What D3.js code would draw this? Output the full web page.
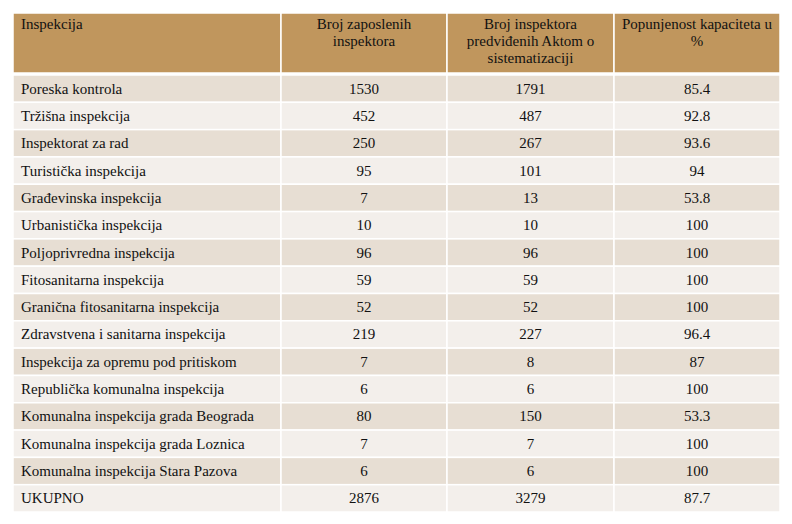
<!DOCTYPE html>
<html>
<head>
<meta charset="utf-8">
<script src="https://cdn.jsdelivr.net/npm/d3@7"></script>
</head>
<body style="margin:0; background:#fff">
<svg id="chart" width="792" height="524"></svg>
<script>
var headers = [
  ["Inspekcija"],
  ["Broj zaposlenih", "inspektora"],
  ["Broj inspektora", "predviđenih Aktom o", "sistematizaciji"],
  ["Popunjenost kapaciteta u", "%"]
];
var inspekcije = ["Poreska kontrola", "Tržišna inspekcija", "Inspektorat za rad", "Turistička inspekcija",
  "Građevinska inspekcija", "Urbanistička inspekcija", "Poljoprivredna inspekcija", "Fitosanitarna inspekcija",
  "Granična fitosanitarna inspekcija", "Zdravstvena i sanitarna inspekcija", "Inspekcija za opremu pod pritiskom",
  "Republička komunalna inspekcija", "Komunalna inspekcija grada Beograda", "Komunalna inspekcija grada Loznica",
  "Komunalna inspekcija Stara Pazova", "UKUPNO"];
var zaposleni = [1530, 452, 250, 95, 7, 10, 96, 59, 52, 219, 7, 6, 80, 7, 6, 2876];
var predvidjeni = [1791, 487, 267, 101, 13, 10, 96, 59, 52, 227, 8, 6, 150, 7, 6, 3279];
var popunjenost = ["85.4", "92.8", "93.6", "94", "53.8", "100", "100", "100", "100", "96.4", "87", "100", "53.3", "100", "100", "87.7"];

var font = "'Liberation Serif', 'DejaVu Serif', serif";
var svg = d3.select("#chart");
var colEdges = [13, 281, 447, 614, 780];
var headTop = 13, headBottom = 73, bodyTop = 75, bodyBottom = 512;

var y = d3.scaleBand().domain(d3.range(inspekcije.length)).range([bodyTop, bodyBottom]);

// header
svg.append("g").selectAll("rect")
  .data(headers)
  .enter().append("rect")
  .attr("x", function(d, i) { return colEdges[i]; })
  .attr("y", headTop)
  .attr("width", function(d, i) { return colEdges[i + 1] - colEdges[i]; })
  .attr("height", headBottom - headTop)
  .attr("fill", "#c0965d")
  .attr("stroke", "#fff")
  .attr("stroke-width", 1.5);

headers.forEach(function(lines, i) {
  var t = svg.append("text")
    .style("font-family", font)
    .style("font-size", "15px")
    .attr("fill", "#111")
    .attr("text-anchor", i === 0 ? "start" : "middle");
  lines.forEach(function(l, k) {
    t.append("tspan")
      .attr("x", i === 0 ? colEdges[0] + 8 : (colEdges[i] + colEdges[i + 1]) / 2)
      .attr("y", 29 + k * 17)
      .text(l);
  });
});

// body rows
var rows = svg.append("g").selectAll("g")
  .data(inspekcije)
  .enter().append("g")
  .attr("transform", function(d, i) { return "translate(0," + y(i) + ")"; });

rows.selectAll("rect")
  .data(function(d, i) { return d3.range(4).map(function(c) { return i; }); })
  .enter().append("rect")
  .attr("x", function(d, c) { return colEdges[c]; })
  .attr("width", function(d, c) { return colEdges[c + 1] - colEdges[c]; })
  .attr("height", y.bandwidth())
  .attr("fill", function(d) { return d % 2 === 0 ? "#e7ded3" : "#f3efeb"; })
  .attr("stroke", "#fff")
  .attr("stroke-width", 1.5);

rows.selectAll("text")
  .data(function(d, i) { return [d, zaposleni[i], predvidjeni[i], popunjenost[i]]; })
  .enter().append("text")
  .style("font-family", font)
  .style("font-size", "15px")
  .attr("fill", "#111")
  .attr("x", function(d, c) { return c === 0 ? colEdges[0] + 8 : (colEdges[c] + colEdges[c + 1]) / 2; })
  .attr("y", y.bandwidth() / 2 + 5)
  .attr("text-anchor", function(d, c) { return c === 0 ? "start" : "middle"; })
  .text(function(d) { return d; });
</script>
</body>
</html>
